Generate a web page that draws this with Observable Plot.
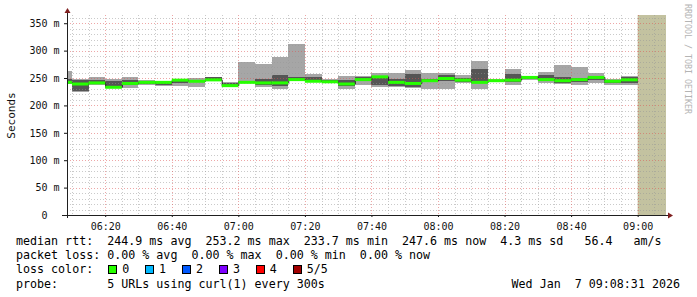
<!DOCTYPE html>
<html>
<head>
<meta charset="utf-8">
<script src="https://cdn.jsdelivr.net/npm/d3@7"></script>
<script src="https://cdn.jsdelivr.net/npm/@observablehq/plot@0.6"></script>
<style>
  html, body { margin: 0; padding: 0; background: #fff; }
  #wrap { position: relative; width: 697px; height: 297px; overflow: hidden; background: #fff;
          font-family: "DejaVu Sans Mono", monospace; }
  #chart { position: absolute; left: 0; top: 0; }
  .leg { position: absolute; left: 16px; font-size: 11.66px; line-height: 14px; white-space: pre; color: #000; }
  .box { position: absolute; width: 7px; height: 7px; border: 1px solid #000; }
  .boxlab { position: absolute; font-size: 11.66px; line-height: 14px; white-space: pre; color: #000; }
  #wm { position: absolute; left: 682px; top: 4px; width: 11px; line-height: 11px; font-size: 8.3px;
        writing-mode: vertical-rl; color: #b4b4b4; white-space: pre; }
</style>
</head>
<body>
<div id="wrap">
  <div id="chart"></div>
  <div id="wm"></div>
</div>
<script>
// ---- data ----
const binStart = ["06:05","06:10","06:15","06:20","06:25","06:30","06:35","06:40","06:45","06:50",
                  "06:55","07:00","07:05","07:10","07:15","07:20","07:25","07:30","07:35","07:40",
                  "07:45","07:50","07:55","08:00","08:05","08:10","08:15","08:20","08:25","08:30",
                  "08:35","08:40","08:45","08:50","08:55"];
const rttMin = [239,225,237,232,232,238,235,236,233,245, 233,240,233,230,245,243,240,230,237,234,
                233,232,230,230,240,230,243,237,247,240, 239,237,240,237,237];
const rttQ2  = [242,226,239,233,238,239,238,241,243,246, 236,241,238,236,246,244,241,236,244,237,
                236,233,244,244,243,241,244,242,248,244, 241,243,246,241,240];
const rttMed = [243,240,242,234,241,243,243,247,245,247.5, 237,243,242,242,248,245,244,240,248,253,
                243,241,246,250,247,243,246,247,252,248, 246,248,252,245,247.6];
const rttQ4  = [249,246,247,244,247,245,244,248,247,251, 240,244,248,255,252,251,247,247,252,254,
                248,257,248,256,250,266,247,257,253,255, 251,250,253,247,251];
const rttMax = [263,249,252,248,252,246,245,249,250,252, 242,280,276,289,312,257,249,253,253,260,
                260,264,260,260,255,281,248,266,253,261, 273,270,260,249,253];
const unknownFrom = ["09:00"];
const graphStart = "2026-01-07T06:08:31Z";
const graphEnd   = "2026-01-07T09:08:31Z";
const yTicks = [0, 50, 100, 150, 200, 250, 300, 350];

const medianLine = "median rtt:  244.9 ms avg  253.2 ms max  233.7 ms min  247.6 ms now  4.3 ms sd   56.4   am/s";
const lossLine   = "packet loss: 0.00 % avg  0.00 % max  0.00 % min  0.00 % now";
const lossTitle  = "loss color:";
const lossLabels = ["0", "1", "2", "3", "4", "5/5"];
const lossColors = ["#26ff00", "#00b8ff", "#0059ff", "#7e00ff", "#ff0000", "#a10000"];
const probeLine  = "probe:       5 URLs using curl(1) every 300s";
const stamp      = "Wed Jan  7 09:08:31 2026";
const watermark  = "RRDTOOL / TOBI OETIKER";

// ---- build ----
const T = s => new Date(`2026-01-07T${s}:00Z`);
const tStart = new Date(graphStart), tEnd = new Date(graphEnd);
const STEP = 5 * 60 * 1000;
const rows = binStart.map((s, i) => ({
  start: T(s), end: new Date(+T(s) + STEP),
  min: rttMin[i], q2: rttQ2[i], med: rttMed[i], q4: rttQ4[i], max: rttMax[i]
}));
const unknown = unknownFrom.map(s => ({x1: T(s), x2: tEnd}));

const minorT = d3.utcMinute.every(5).range(tStart, tEnd).filter(d => d.getUTCMinutes() % 20 !== 0);
const majorT = d3.utcMinute.every(20).range(tStart, tEnd);
const minorY = d3.range(10, 366, 10).filter(v => v % 50 !== 0);
const majorY = d3.range(50, 366, 50);

const gridGray = "rgba(150,150,150,0.5)";
const gridRed = "rgba(222,79,79,0.5)";

const plot = Plot.plot({
  width: 697, height: 232,
  marginLeft: 67, marginRight: 31, marginTop: 15, marginBottom: 17,
  x: {type: "utc", domain: [tStart, tEnd]},
  y: {domain: [0, 365]},
  style: {fontFamily: "'DejaVu Sans Mono', monospace", fontSize: "10px", color: "#111", background: "transparent", overflow: "visible"},
  marks: [
    Plot.rect(unknown, {x1: "x1", x2: "x2", fill: "#c3c2a0"}),
    Plot.rect(rows, {x1: "start", x2: "end", y1: "min", y2: "max", fill: "#a6a6a6", clip: true, shapeRendering: "crispEdges"}),
    Plot.rect(rows, {x1: "start", x2: "end", y1: "q2", y2: "q4", fill: "#555555", clip: true, shapeRendering: "crispEdges"}),
    Plot.ruleY(minorY, {stroke: gridGray, strokeDasharray: "1,2", shapeRendering: "crispEdges"}),
    Plot.ruleX(minorT, {stroke: gridGray, strokeDasharray: "1,2", shapeRendering: "crispEdges"}),
    Plot.ruleY(majorY, {stroke: gridRed, strokeDasharray: "1,2", shapeRendering: "crispEdges"}),
    Plot.ruleX(majorT, {stroke: gridRed, strokeDasharray: "1,2", shapeRendering: "crispEdges"}),
    Plot.line(rows, {x: "start", y: "med", curve: "step-after", stroke: "#202020", strokeWidth: 1, clip: true}),
    Plot.ruleY(rows, {y: "med", x1: "start", x2: "end", stroke: lossColors[0], strokeWidth: 3, clip: true}),
    Plot.axisX({ticks: majorT, tickFormat: d3.utcFormat("%H:%M"), tickSize: 2, tickPadding: 5, label: null}),
    Plot.axisY({ticks: yTicks, tickFormat: d => d === 0 ? "0\u00a0\u00a0" : d + "\u00a0m", tickSize: 3, tickPadding: 5, label: null}),
    Plot.axisY({ticks: [], tickSize: 0, label: "Seconds", labelAnchor: "center", labelArrow: "none", labelOffset: 60, fontSize: 11})
  ]
});

// axis lines and arrows (rrdtool style)
const sx = plot.scale("x"), sy = plot.scale("y");
const X0 = sx.range[0], X1 = sx.range[1], Y0 = sy.range[0], Y1 = sy.range[1];
const g = d3.select(plot).append("g");
g.append("line").attr("x1", X0 - 5).attr("x2", X1 + 2).attr("y1", Y0 + 0.5).attr("y2", Y0 + 0.5).attr("stroke", "#1f1f1f");
g.append("line").attr("x1", X0 + 0.5).attr("x2", X0 + 0.5).attr("y1", Y0 + 3).attr("y2", Y1 - 3).attr("stroke", "#1f1f1f");
g.append("polygon").attr("points", `${X1 + 2},${Y0 - 2.5} ${X1 + 2},${Y0 + 3.5} ${X1 + 7},${Y0 + 0.5}`).attr("fill", "#7f1f1f");
g.append("polygon").attr("points", `${X0 - 2.5},${Y1 - 2} ${X0 + 3.5},${Y1 - 2} ${X0 + 0.5},${Y1 - 7}`).attr("fill", "#7f1f1f");

document.getElementById("chart").appendChild(plot);
document.getElementById("wm").textContent = watermark;

// legend below the svg
const wrap = document.getElementById("wrap");
function addDiv(cls, text, style) {
  const d = document.createElement("div");
  d.className = cls; d.textContent = text;
  Object.assign(d.style, style);
  wrap.appendChild(d);
  return d;
}
addDiv("leg", medianLine, {top: "234px"});
addDiv("leg", lossLine, {top: "248.2px"});
addDiv("leg", lossTitle, {top: "262.4px"});
lossLabels.forEach((lab, i) => {
  const bx = 108 + i * 36.9;
  addDiv("box", "", {left: bx + "px", top: "265px", background: lossColors[i]});
  addDiv("boxlab", lab, {left: (bx + 14.2) + "px", top: "262.4px"});
});
addDiv("leg", probeLine, {top: "276.6px"});
addDiv("leg", stamp, {top: "276.6px", left: "auto", right: "17px"});
</script>
</body>
</html>
